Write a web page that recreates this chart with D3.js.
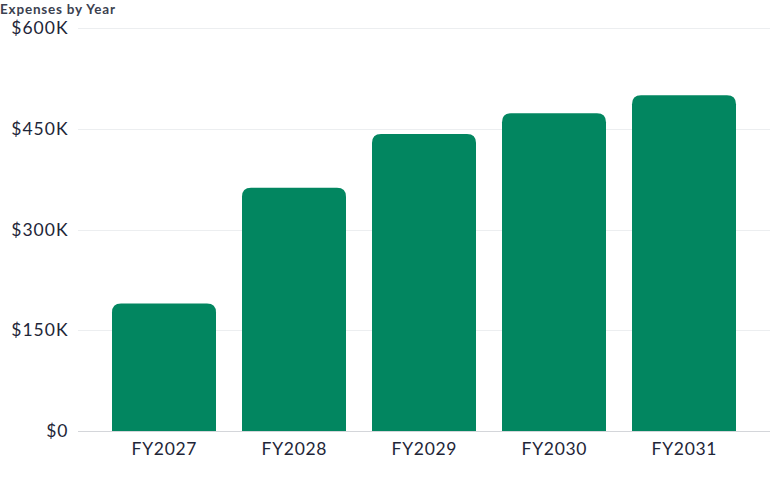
<!DOCTYPE html>
<html>
<head>
<meta charset="utf-8">
<script src="https://cdn.jsdelivr.net/npm/d3@7"></script>
<style>
  html, body { margin: 0; padding: 0; background: #fff; }
  svg { display: block; font-family: "Lato", "Noto Sans", sans-serif; }
</style>
</head>
<body>
<svg id="chart" width="770" height="477"></svg>
<script>
const title = "Expenses by Year";
const categories = ["FY2027", "FY2028", "FY2029", "FY2030", "FY2031"];
const values = [190000, 362000, 442000, 473000, 500000];
const yTicks = [0, 150000, 300000, 450000, 600000];
const yTickLabels = ["$0", "$150K", "$300K", "$450K", "$600K"];

const svg = d3.select("#chart");
const W = 770;
const plotTop = 28, plotBottom = 431;
const gridLeft = 78;

const y = d3.scaleLinear().domain([0, 600000]).range([plotBottom, plotTop]);
const x = d3.scaleBand().domain(categories).range([99, 749]).paddingInner(0.2).paddingOuter(0.1);

// title
svg.append("text")
  .attr("x", 0).attr("y", 13.5)
  .attr("font-size", 13.5).attr("font-weight", 700)
  .attr("letter-spacing", 0.8)
  .attr("fill", "#3b4150")
  .text(title);

// gridlines
svg.append("g").selectAll("line").data(yTicks).join("line")
  .attr("x1", gridLeft).attr("x2", W)
  .attr("y1", d => Math.round(y(d)) + 0.5).attr("y2", d => Math.round(y(d)) + 0.5)
  .attr("stroke", d => d === 0 ? "#d4d6da" : "#eceef0")
  .attr("stroke-width", 1);

// y labels
svg.append("g").selectAll("text").data(yTicks).join("text")
  .attr("x", 68.5).attr("y", d => y(d) + 6)
  .attr("text-anchor", "end")
  .attr("font-size", 17.5)
  .attr("letter-spacing", 1)
  .attr("fill", "#1e2638")
  .text((d, i) => yTickLabels[i]);

// bars with rounded top corners
const r = 9;
function barPath(x0, w, yTop, yBot) {
  const rr = Math.min(r, (yBot - yTop), w / 2);
  return `M${x0},${yBot}V${yTop + rr}Q${x0},${yTop} ${x0 + rr},${yTop}H${x0 + w - rr}Q${x0 + w},${yTop} ${x0 + w},${yTop + rr}V${yBot}Z`;
}
svg.append("g").selectAll("path").data(categories).join("path")
  .attr("d", (c, i) => barPath(x(c), x.bandwidth(), y(values[i]), y(0)))
  .attr("fill", "#028660");

// x labels
svg.append("g").selectAll("text").data(categories).join("text")
  .attr("x", c => x(c) + x.bandwidth() / 2 + 0.4)
  .attr("y", 455)
  .attr("text-anchor", "middle")
  .attr("font-size", 17.5)
  .attr("letter-spacing", 0.7)
  .attr("fill", "#1e2638")
  .text(c => c);
</script>
</body>
</html>
